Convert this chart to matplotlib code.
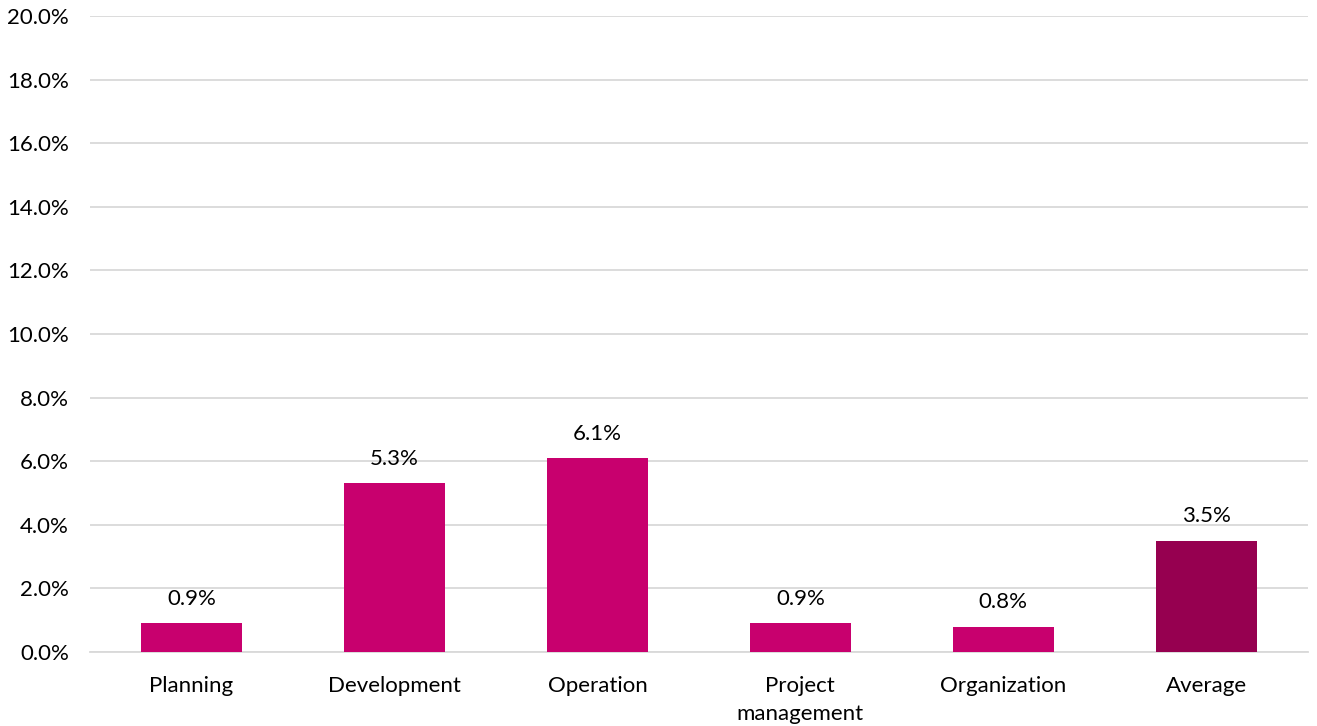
import matplotlib
matplotlib.use("Agg")
import matplotlib.pyplot as plt
from matplotlib.ticker import FuncFormatter, MultipleLocator

categories = ["Planning", "Development", "Operation", "Project\nmanagement", "Organization", "Average"]
values = [0.9, 5.3, 6.1, 0.9, 0.8, 3.5]
colors = ["#C8006E", "#C8006E", "#C8006E", "#C8006E", "#C8006E", "#960050"]

plt.rcParams['font.family'] = ['Lato', 'DejaVu Sans']

fig = plt.figure(figsize=(13.17, 7.26), dpi=100)
ax = fig.add_axes([0.0683, 0.102, 0.9247, 0.876])

x = range(len(categories))
bars = ax.bar(x, values, width=0.5, color=colors, zorder=3)

for xi, v in zip(x, values):
    ax.text(xi, v + 0.45, f"{v:.1f}%", ha="center", va="bottom", fontsize=16, color="#000000")

ax.set_xlim(-0.5, len(categories) - 0.5)
ax.set_ylim(0, 20)
ax.yaxis.set_major_locator(MultipleLocator(2))
ax.yaxis.set_major_formatter(FuncFormatter(lambda v, p: f"{v:.1f}%"))
ax.grid(axis="y", color="#D9D9D9", linewidth=1.3, zorder=0)
ax.set_xticks(list(x))
ax.set_xticklabels(categories, fontsize=16, linespacing=1.5)
ax.tick_params(axis="y", labelsize=16, length=0, pad=15)
ax.tick_params(axis="x", length=0, pad=17)
for s in ["top", "right", "left"]:
    ax.spines[s].set_visible(False)
ax.spines["bottom"].set_color("#D9D9D9")
ax.spines["bottom"].set_linewidth(1.3)

fig.savefig("out.png", dpi=100)
